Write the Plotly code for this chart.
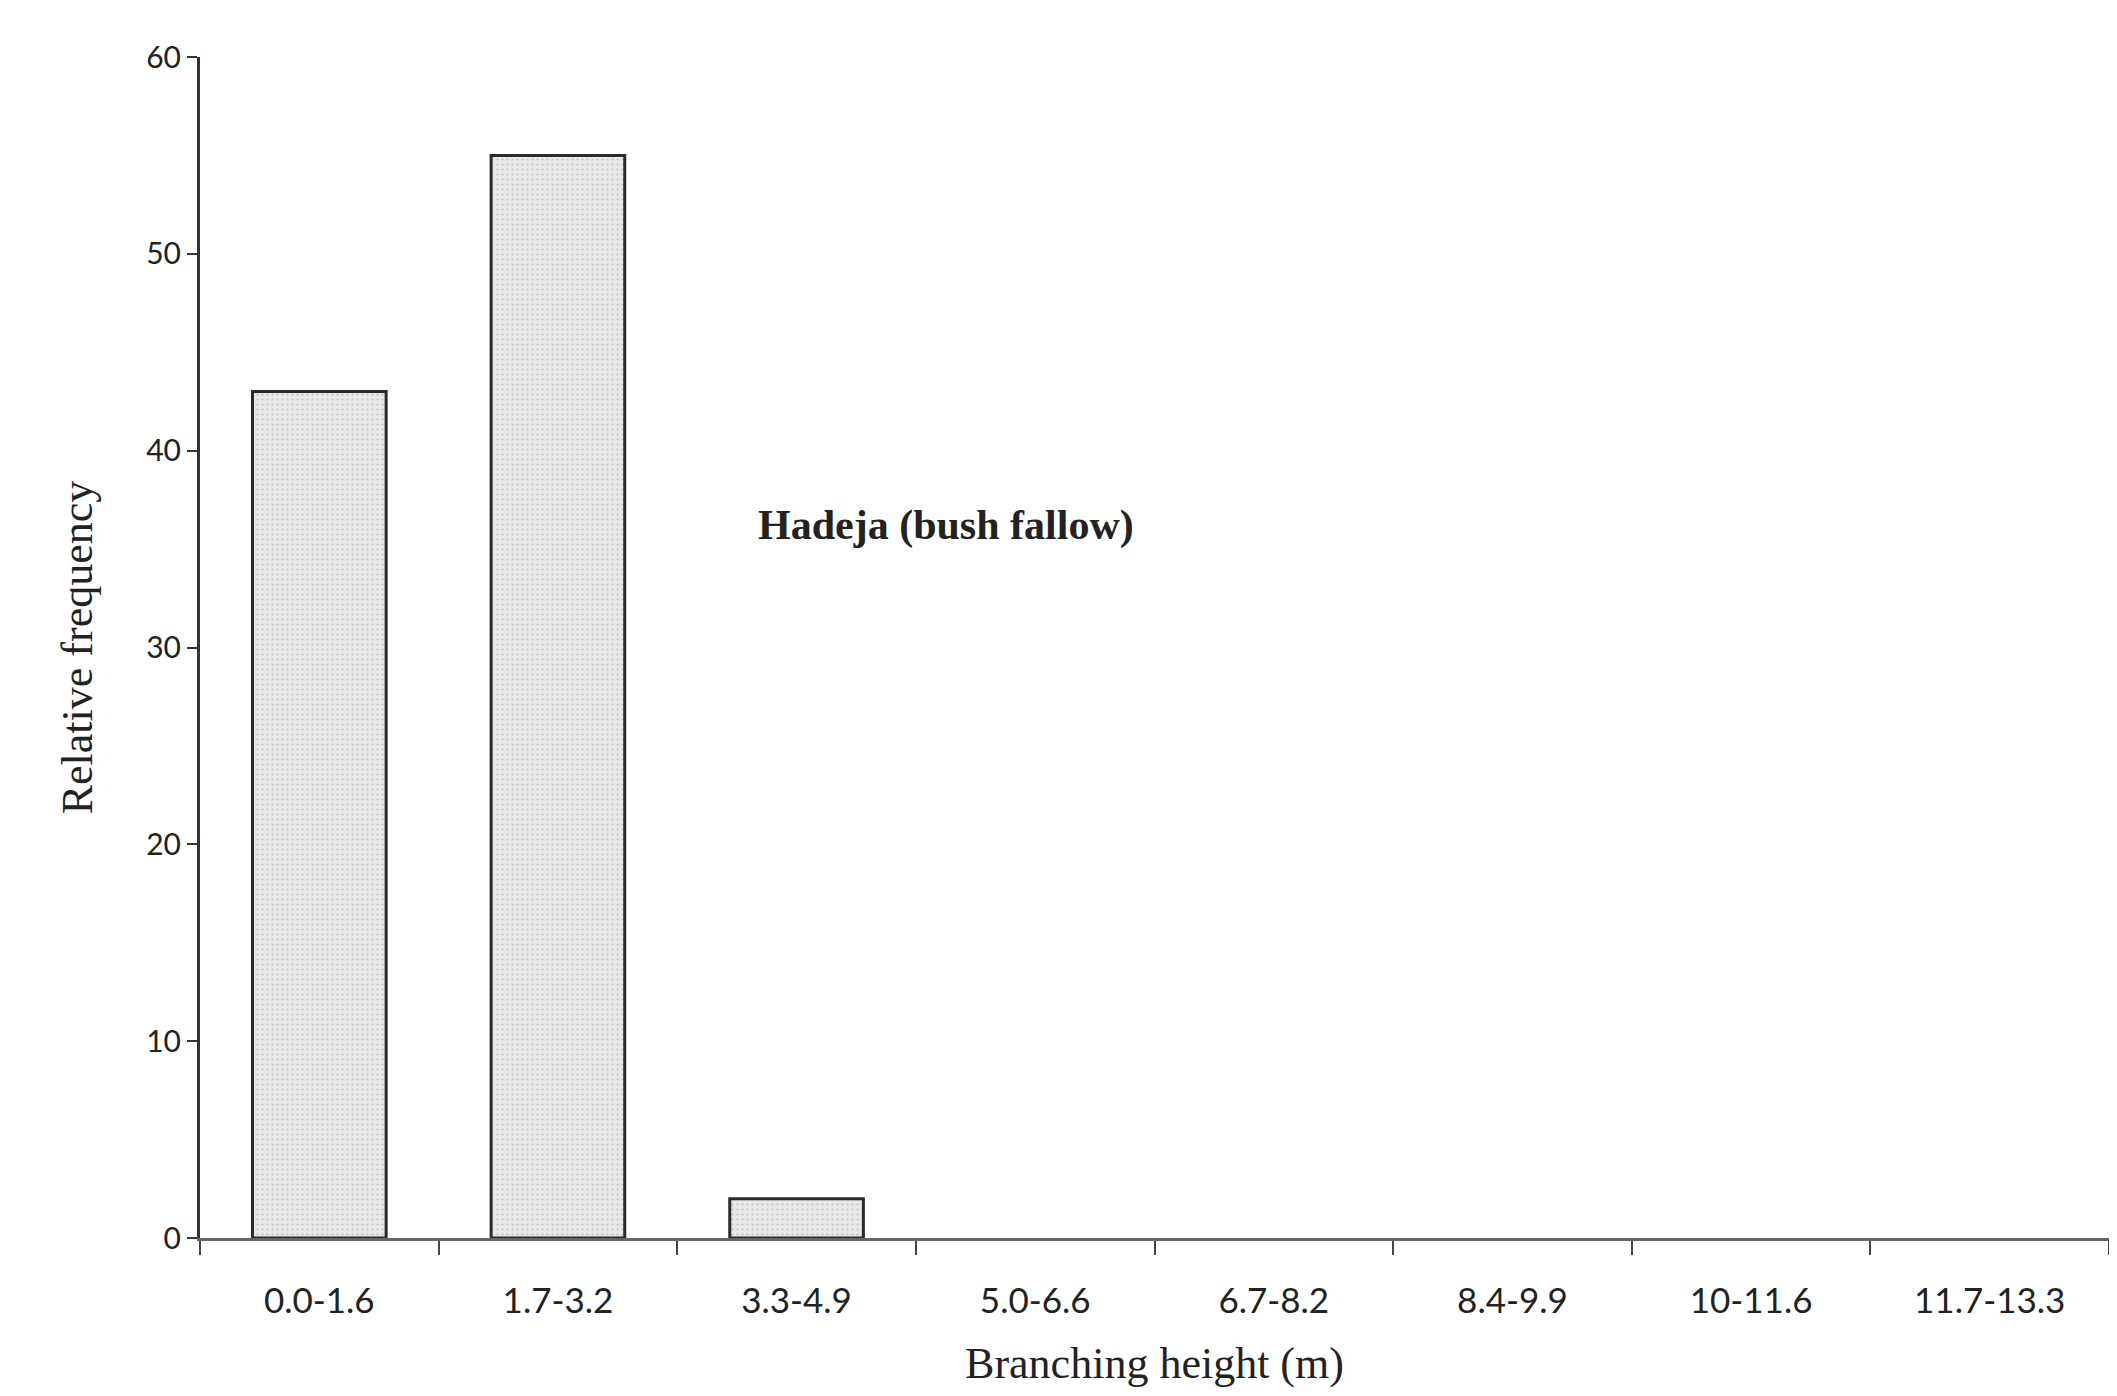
import plotly.graph_objects as go

categories = ["0.0-1.6", "1.7-3.2", "3.3-4.9", "5.0-6.6", "6.7-8.2", "8.4-9.9", "10-11.6", "11.7-13.3"]
frequency = [43, 55, 2, 0, 0, 0, 0, 0]
y_ticks = [0, 10, 20, 30, 40, 50, 60]

fig = go.Figure()
fig.add_trace(go.Bar(
    x=categories,
    y=frequency,
    width=0.56,
    marker=dict(
        color="#e3e3e3",
        line=dict(color="#2a2a2a", width=[3 if v > 0 else 0 for v in frequency]),
        pattern=dict(shape=".", fgcolor="#9a9a9a", bgcolor="#e8e8e8", size=5, solidity=0.15),
    ),
    showlegend=False,
))

fig.add_annotation(
    text="Hadeja (bush fallow)",
    xref="paper", yref="y",
    x=0.391, y=36.2,
    showarrow=False,
    font=dict(family="Liberation Serif", size=42, color="#222", weight="bold"),
)

fig.update_layout(
    width=2101, height=1380,
    margin=dict(l=192, r=0, t=49, b=150),
    plot_bgcolor="white",
    paper_bgcolor="white",
    font=dict(family="Lato", color="#222"),
)

fig.update_xaxes(
    type="category",
    automargin=False,
    tickson="boundaries",
    ticks="outside",
    ticklen=14,
    tickwidth=2,
    tickcolor="#444",
    ticklabelstandoff=30,
    showline=True,
    linecolor="#666",
    linewidth=3,
    showgrid=False,
    tickfont=dict(family="Lato", size=35, color="#222"),
    title=dict(text="Branching height (m)", font=dict(family="Liberation Serif", size=44, color="#222"), standoff=42),
    range=[-0.5, 7.5],
)

fig.update_yaxes(
    automargin=False,
    range=[0, 60],
    tickvals=y_ticks,
    ticks="outside",
    ticklen=10,
    tickwidth=2,
    tickcolor="#333",
    showline=True,
    linecolor="#333",
    linewidth=3,
    showgrid=False,
    zeroline=False,
    tickfont=dict(family="Lato", size=30, color="#222"),
    title=dict(text="Relative frequency", font=dict(family="Liberation Serif", size=44, color="#222"), standoff=40),
)

fig.write_html("out.html")
